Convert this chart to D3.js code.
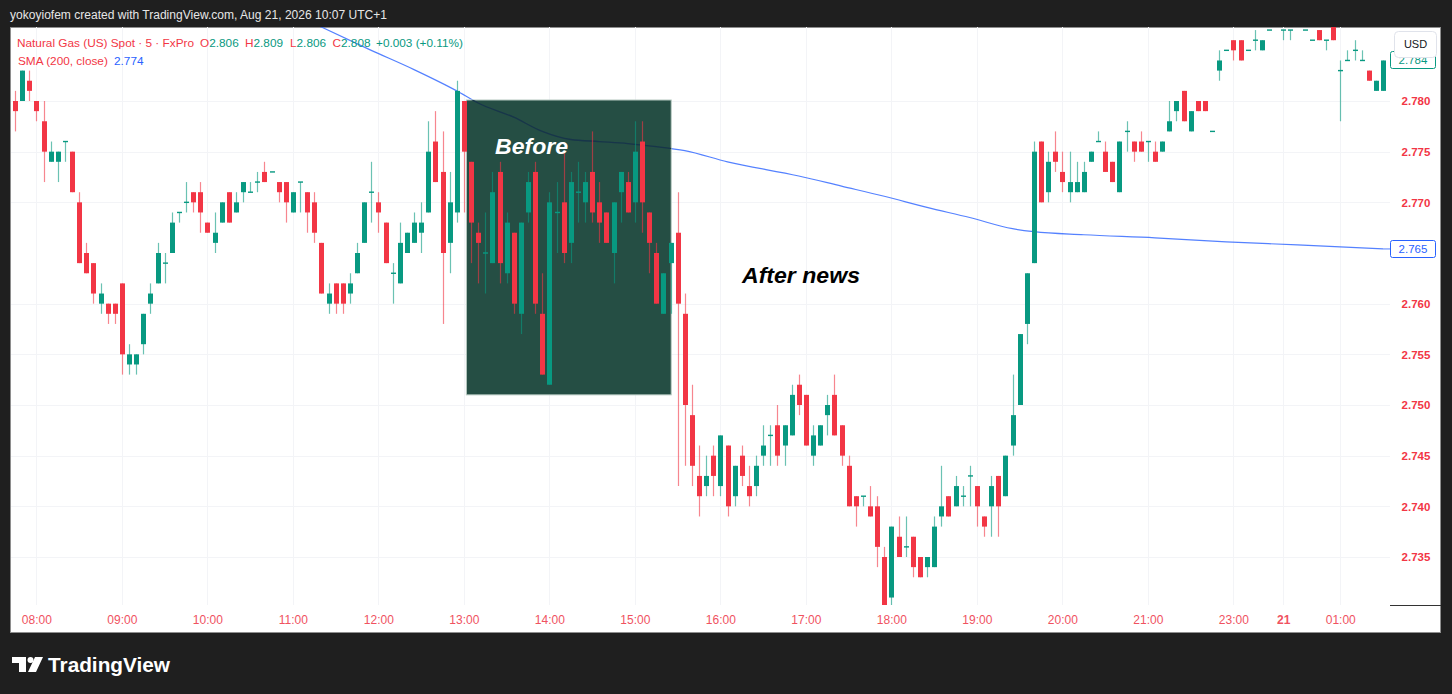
<!DOCTYPE html>
<html><head><meta charset="utf-8">
<script src="https://cdn.jsdelivr.net/npm/d3@7"></script>
<style>
body{margin:0;background:#1f1f1f;overflow:hidden}
svg{display:block}
text{font-family:"Liberation Sans",Arial,sans-serif}
</style>
</head><body>
<svg id="c" width="1452" height="694"></svg>
<script>
// ---- data (5-minute bars, index 0 = 07:45) ----
const opens=[2.780,2.780,2.782,2.780,2.778,2.774,2.774,2.776,2.775,2.770,
2.765,2.764,2.760,2.760,2.760,2.762,2.754,2.754,2.756,2.760,
2.762,2.764,2.765,2.769,2.770,2.771,2.771,2.768,2.766,2.768,
2.771,2.769,2.771,2.771,2.772,2.773,2.773,2.772,2.772,2.769,
2.772,2.771,2.770,2.766,2.760,2.762,2.762,2.761,2.763,2.766,
2.771,2.770,2.768,2.763,2.762,2.765,2.766,2.767,2.769,2.776,
2.773,2.766,2.769,2.780,2.774,2.767,2.765,2.764,2.773,2.763,
2.767,2.759,2.769,2.773,2.759,2.752,2.769,2.770,2.766,2.771,
2.770,2.773,2.770,2.769,2.765,2.771,2.772,2.770,2.776,2.769,
2.765,2.759,2.764,2.767,2.759,2.749,2.743,2.742,2.745,2.742,
2.746,2.741,2.745,2.742,2.742,2.745,2.747,2.748,2.746,2.747,
2.752,2.751,2.745,2.746,2.749,2.751,2.748,2.744,2.741,2.741,
2.740,2.740,2.735,2.731,2.737,2.736,2.737,2.735,2.734,2.734,
2.739,2.741,2.740,2.741,2.743,2.742,2.739,2.740,2.743,2.741,
2.746,2.750,2.758,2.764,2.776,2.771,2.775,2.773,2.771,2.771,
2.771,2.774,2.776,2.775,2.774,2.771,2.777,2.776,2.776,2.776,
2.775,2.775,2.777,2.779,2.781,2.777,2.780,2.780,2.777,2.783,
2.785,2.786,2.786,2.785,2.786,2.785,2.787,2.788,2.787,2.787,
2.788,2.787,2.786,2.787,2.786,2.788,2.783,2.784,2.785,2.784,
2.783,2.781,2.781];
const highs=[2.781,2.783,2.783,2.780,2.780,2.776,2.775,2.776,2.775,2.771,
2.766,2.764,2.762,2.760,2.760,2.762,2.756,2.755,2.759,2.762,
2.766,2.765,2.769,2.769,2.772,2.771,2.772,2.768,2.769,2.770,
2.771,2.771,2.772,2.772,2.773,2.774,2.773,2.772,2.772,2.771,
2.772,2.771,2.771,2.766,2.762,2.762,2.762,2.763,2.766,2.770,
2.774,2.771,2.768,2.764,2.768,2.767,2.769,2.770,2.778,2.779,
2.777,2.773,2.782,2.780,2.774,2.768,2.769,2.773,2.774,2.769,
2.767,2.768,2.773,2.774,2.763,2.771,2.772,2.775,2.773,2.774,
2.773,2.777,2.772,2.769,2.770,2.773,2.773,2.778,2.778,2.769,
2.766,2.763,2.766,2.771,2.761,2.752,2.746,2.745,2.746,2.747,
2.746,2.744,2.746,2.744,2.745,2.748,2.748,2.750,2.748,2.752,
2.753,2.751,2.748,2.748,2.751,2.753,2.748,2.745,2.741,2.741,
2.742,2.741,2.736,2.738,2.739,2.739,2.737,2.735,2.735,2.739,
2.744,2.741,2.743,2.742,2.744,2.742,2.739,2.743,2.743,2.745,
2.753,2.757,2.763,2.776,2.776,2.775,2.777,2.775,2.775,2.774,
2.774,2.775,2.777,2.776,2.774,2.776,2.778,2.776,2.777,2.776,
2.776,2.776,2.780,2.780,2.781,2.779,2.780,2.780,2.777,2.785,
2.785,2.786,2.786,2.785,2.787,2.786,2.787,2.788,2.787,2.787,
2.788,2.787,2.786,2.787,2.786,2.788,2.784,2.785,2.786,2.785,
2.783,2.782,2.784];
const lows=[2.777,2.780,2.780,2.778,2.772,2.774,2.772,2.774,2.771,2.764,
2.763,2.760,2.759,2.758,2.758,2.753,2.753,2.753,2.755,2.759,
2.762,2.762,2.765,2.768,2.769,2.769,2.767,2.767,2.765,2.768,
2.768,2.769,2.770,2.771,2.771,2.772,2.773,2.770,2.768,2.769,
2.769,2.767,2.766,2.761,2.759,2.759,2.759,2.760,2.763,2.766,
2.768,2.767,2.764,2.760,2.762,2.765,2.766,2.765,2.769,2.772,
2.758,2.763,2.768,2.769,2.764,2.762,2.761,2.764,2.762,2.762,
2.759,2.757,2.768,2.759,2.753,2.752,2.765,2.764,2.764,2.768,
2.768,2.768,2.766,2.766,2.762,2.768,2.769,2.768,2.767,2.763,
2.760,2.759,2.759,2.742,2.744,2.742,2.739,2.741,2.741,2.741,
2.739,2.740,2.742,2.740,2.741,2.744,2.744,2.744,2.744,2.747,
2.749,2.746,2.744,2.746,2.747,2.747,2.744,2.740,2.738,2.740,
2.739,2.734,2.729,2.730,2.735,2.735,2.733,2.733,2.733,2.734,
2.738,2.739,2.740,2.740,2.740,2.738,2.737,2.737,2.737,2.741,
2.745,2.750,2.756,2.764,2.770,2.770,2.773,2.771,2.770,2.771,
2.771,2.774,2.776,2.773,2.772,2.771,2.775,2.774,2.775,2.774,
2.774,2.775,2.777,2.778,2.778,2.777,2.779,2.779,2.777,2.782,
2.785,2.784,2.784,2.785,2.785,2.785,2.787,2.788,2.786,2.786,
2.788,2.787,2.786,2.786,2.785,2.786,2.778,2.784,2.784,2.784,
2.782,2.781,2.781];
const closes=[2.779,2.783,2.781,2.779,2.775,2.775,2.775,2.776,2.771,2.764,
2.763,2.761,2.761,2.759,2.759,2.755,2.755,2.755,2.759,2.761,
2.765,2.764,2.768,2.769,2.770,2.770,2.769,2.767,2.767,2.770,
2.768,2.770,2.772,2.771,2.772,2.772,2.773,2.771,2.770,2.771,
2.772,2.769,2.767,2.761,2.761,2.760,2.760,2.762,2.765,2.770,
2.771,2.769,2.764,2.763,2.766,2.767,2.768,2.768,2.775,2.772,
2.765,2.770,2.781,2.775,2.768,2.766,2.765,2.771,2.764,2.768,
2.760,2.768,2.772,2.760,2.753,2.770,2.769,2.765,2.772,2.771,
2.772,2.769,2.768,2.766,2.770,2.773,2.769,2.775,2.770,2.766,
2.760,2.763,2.766,2.760,2.750,2.744,2.741,2.743,2.743,2.747,
2.740,2.744,2.743,2.741,2.744,2.746,2.747,2.745,2.748,2.751,
2.750,2.746,2.747,2.748,2.750,2.747,2.745,2.740,2.740,2.741,
2.739,2.736,2.730,2.738,2.735,2.736,2.734,2.733,2.735,2.738,
2.740,2.739,2.742,2.741,2.743,2.740,2.738,2.742,2.740,2.745,
2.749,2.757,2.763,2.775,2.770,2.774,2.774,2.772,2.772,2.772,
2.773,2.775,2.776,2.773,2.772,2.776,2.777,2.775,2.775,2.776,
2.774,2.776,2.778,2.780,2.778,2.779,2.779,2.779,2.777,2.784,
2.785,2.785,2.784,2.785,2.786,2.786,2.787,2.788,2.787,2.787,
2.788,2.787,2.786,2.786,2.786,2.786,2.783,2.784,2.785,2.784,
2.782,2.782,2.784];
// SMA(200) read at sample bars
const smaIdx=[40,43,50,56,62,65,70,74,78,82,86,90,94,100,110,116,122,128,134,140,143,150,160,170,180,192];
const smaVal=[2.7883,2.7873,2.7850,2.7831,2.7810,2.7798,2.7784,2.7770,2.7762,2.7760,2.7758,2.7755,2.7751,2.7740,2.7726,2.7716,2.7706,2.7695,2.7685,2.7674,2.7671,2.7668,2.7665,2.7661,2.7658,2.7654];
const timeTickIdx=[3,15,27,39,51,63,75,87,99,111,123,135,147,159,171,178,186];
const timeTickLabels=["08:00","09:00","10:00","11:00","12:00","13:00","14:00","15:00","16:00","17:00","18:00","19:00","20:00","21:00","23:00","21","01:00"];
// 2.765 tick is hidden under the SMA value label in the reference
const priceTicks=[2.735,2.740,2.745,2.750,2.755,2.760,2.770,2.775,2.780];
// highlighted zone (bar index span, price span)
const zoneBars=[63.35,92.1], zonePrice=[2.7801,2.7510];
// legend values
const ohlcKeys=["O","H","L","C"], ohlcVals=["2.806","2.809","2.806","2.808"];

const UP="#089981", DN="#F23645", BLUE="#2962FF";
const svg=d3.select("#c");
const x=d3.scaleLinear().domain([0,192]).range([15,1383]);
const y=d3.scaleLinear().domain([2.735,2.780]).range([557,101]);
const P={l:11,r:1390,t:27,b:605};

// header
svg.append("text").attr("x",10).attr("y",19).attr("fill","#e6e6e6").attr("font-size",12.5)
 .attr("textLength",377).attr("lengthAdjust","spacingAndGlyphs")
 .text("yokoyiofem created with TradingView.com, Aug 21, 2026 10:07 UTC+1");

// panel
svg.append("rect").attr("x",10.5).attr("y",27.5).attr("width",1430).attr("height",605)
 .attr("fill","#fff").attr("stroke","#8e8e8e");

const defs=svg.append("defs");
defs.append("clipPath").attr("id","plot").append("rect")
 .attr("x",P.l).attr("y",P.t).attr("width",P.r-P.l).attr("height",P.b-P.t);
defs.append("clipPath").attr("id","zone").append("rect")
 .attr("x",x(zoneBars[0])).attr("y",y(zonePrice[0])).attr("width",x(zoneBars[1])-x(zoneBars[0])).attr("height",y(zonePrice[1])-y(zonePrice[0]));

const g=svg.append("g").attr("clip-path","url(#plot)");
// faint grid
g.selectAll(".vg").data(timeTickIdx).join("line").attr("x1",d=>Math.round(x(d))+.5).attr("x2",d=>Math.round(x(d))+.5)
 .attr("y1",P.t).attr("y2",P.b).attr("stroke","#f3f4f7");
g.selectAll(".hg").data(priceTicks).join("line").attr("y1",d=>Math.round(y(d))+.5).attr("y2",d=>Math.round(y(d))+.5)
 .attr("x1",P.l).attr("x2",P.r).attr("stroke","#f3f4f7");

// SMA
const smaPts=smaIdx.map((d,i)=>[x(d),y(smaVal[i])]);
const line=d3.line().curve(d3.curveMonotoneX);
g.append("path").attr("d",line(smaPts)).attr("fill","none").attr("stroke",BLUE).attr("stroke-opacity",.8).attr("stroke-width",1.2);

// zone box
g.append("rect").attr("x",x(zoneBars[0])).attr("y",y(zonePrice[0]))
 .attr("width",x(zoneBars[1])-x(zoneBars[0])).attr("height",y(zonePrice[1])-y(zonePrice[0]))
 .attr("fill","#254e44").attr("stroke","#b9cbc3").attr("stroke-width",1);
g.append("path").attr("d",line(smaPts)).attr("fill","none").attr("stroke","#17354a").attr("stroke-width",1.3)
 .attr("clip-path","url(#zone)");

// candles
const bars=d3.range(opens.length).map(i=>({i,o:opens[i],h:highs[i],l:lows[i],c:closes[i]}));
const cg=g.append("g");
const cx=d=>Math.round(x(d.i));
cg.selectAll(".w").data(bars).join("line")
 .attr("x1",d=>cx(d)+.5).attr("x2",d=>cx(d)+.5)
 .attr("y1",d=>y(d.h)).attr("y2",d=>y(d.l))
 .attr("stroke",d=>d.c>=d.o?UP:DN).attr("stroke-opacity",.6).attr("stroke-width",1.2);
cg.selectAll(".b").data(bars).join("rect")
 .attr("x",d=>cx(d)-2).attr("width",5)
 .attr("y",d=>Math.min(y(d.o),y(d.c))-(d.o===d.c?0.7:0))
 .attr("height",d=>Math.max(1.4,Math.abs(y(d.o)-y(d.c))))
 .attr("fill",d=>d.c>=d.o?UP:DN);

// annotations
svg.append("text").attr("x",495).attr("y",154).attr("fill","#fff").attr("font-size",22).attr("font-weight","bold")
 .attr("font-style","italic").attr("font-family","'Open Sans',sans-serif").attr("textLength",73).attr("lengthAdjust","spacingAndGlyphs").text("Before");
svg.append("text").attr("x",742).attr("y",283).attr("fill","#000").attr("font-size",22).attr("font-weight","bold")
 .attr("font-style","italic").attr("font-family","'Open Sans',sans-serif").attr("textLength",118).attr("lengthAdjust","spacingAndGlyphs").text("After news");

// legend line 1 (natural widths, no compression)
const LF=11.8;
svg.append("text").attr("x",17).attr("y",47).attr("fill",DN).attr("font-size",LF).text("Natural Gas (US) Spot · 5 · FxPro");
const ohlcX=[200,245,290,332.5];
ohlcKeys.forEach((k,i)=>{
  const t=svg.append("text").attr("x",ohlcX[i]).attr("y",47).attr("font-size",LF);
  t.append("tspan").attr("fill",DN).text(k);
  t.append("tspan").attr("fill",UP).text(ohlcVals[i]);
});
svg.append("text").attr("x",376).attr("y",47).attr("fill",UP).attr("font-size",LF).text("+0.003 (+0.11%)");
// legend line 2
svg.append("text").attr("x",18).attr("y",65).attr("fill",DN).attr("font-size",LF).text("SMA (200, close)");
svg.append("text").attr("x",114).attr("y",65).attr("fill",BLUE).attr("font-size",LF).text("2.774");

// time axis
const ta=svg.append("g").attr("transform",`translate(0,${P.b})`)
 .call(d3.axisBottom(x).tickValues(timeTickIdx).tickFormat((d,i)=>timeTickLabels[i]).tickSize(0).tickPadding(10));
ta.select(".domain").remove();
ta.selectAll("text").attr("fill","#f0525f").attr("font-size",12).attr("font-family","'Liberation Sans',Arial,sans-serif")
 .attr("font-weight",(d,i)=>timeTickLabels[i]==="21"?"bold":"normal");

// price axis
const pa=svg.append("g").attr("transform",`translate(${P.r},0)`)
 .call(d3.axisRight(y).tickValues(priceTicks).tickFormat(d3.format(".3f")).tickSize(0).tickPadding(26));
pa.select(".domain").remove();
pa.selectAll("text").attr("fill",DN).attr("font-size",11.5).attr("font-weight","bold").attr("text-anchor","middle")
 .attr("font-family","'Liberation Sans',Arial,sans-serif");
svg.append("line").attr("x1",P.r).attr("x2",1441).attr("y1",P.b+.5).attr("y2",P.b+.5).attr("stroke","#333");

// SMA value label
const smaLast=smaVal[smaVal.length-1];
svg.append("line").attr("x1",x(192)).attr("x2",P.r).attr("y1",y(smaLast)).attr("y2",y(smaLast)).attr("stroke",BLUE).attr("stroke-opacity",.8);
svg.append("rect").attr("x",P.r+.5).attr("y",Math.round(y(smaLast))-8.5).attr("width",45).attr("height",17).attr("rx",2)
 .attr("fill","#fff").attr("stroke",BLUE);
svg.append("text").attr("x",P.r+23).attr("y",y(smaLast)+4).attr("text-anchor","middle").attr("fill",BLUE).attr("font-size",11.5)
 .text(d3.format(".3f")(smaLast));
// last price label (partly under the USD button)
const lastC=closes[closes.length-1];
svg.append("rect").attr("x",P.r+.5).attr("y",Math.round(y(lastC))-8.5).attr("width",45).attr("height",17).attr("rx",2)
 .attr("fill","#fff").attr("stroke",UP);
svg.append("text").attr("x",P.r+23).attr("y",y(lastC)+4).attr("text-anchor","middle").attr("fill",UP).attr("font-size",11.5)
 .text(d3.format(".3f")(lastC));
// USD button
svg.append("rect").attr("x",1394.5).attr("y",31.5).attr("width",42).attr("height",26).attr("rx",4)
 .attr("fill","#fff").attr("stroke","#e0e3eb");
svg.append("text").attr("x",1415.5).attr("y",48).attr("text-anchor","middle").attr("fill","#131722").attr("font-size",11).text("USD");

// footer logo
const lg=svg.append("g").attr("fill","#fff");
lg.append("rect").attr("x",12).attr("y",657).attr("width",14).attr("height",6);
lg.append("rect").attr("x",19).attr("y",657).attr("width",7).attr("height",15);
lg.append("circle").attr("cx",30.5).attr("cy",660).attr("r",3);
lg.append("polygon").attr("points","35,657 43,657 36,672 28,672");
svg.append("text").attr("x",48).attr("y",672).attr("fill","#fff").attr("font-size",21).attr("font-weight","bold")
 .attr("font-family","'Inter','Liberation Sans',sans-serif").attr("textLength",122).attr("lengthAdjust","spacingAndGlyphs").text("TradingView");
</script>
</body></html>
